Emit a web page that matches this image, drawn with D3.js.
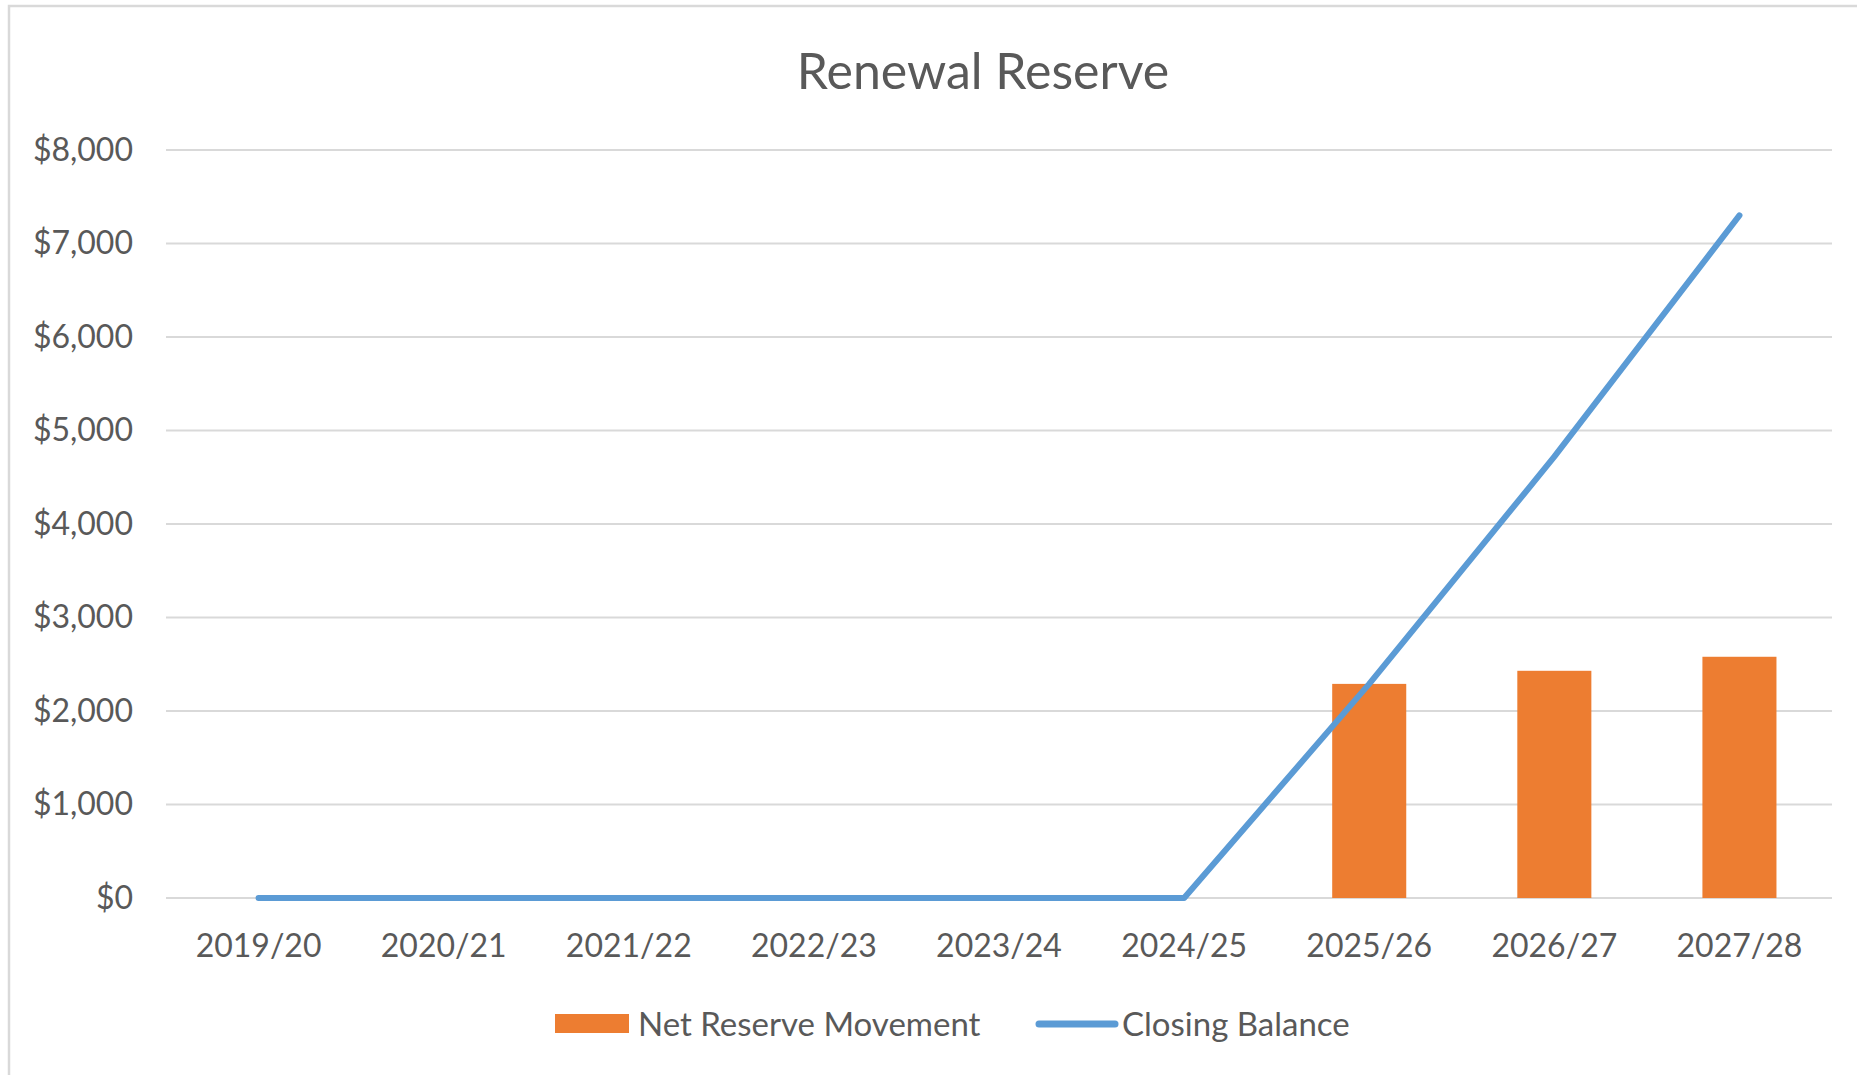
<!DOCTYPE html>
<html>
<head>
<meta charset="utf-8">
<script src="https://cdn.jsdelivr.net/npm/d3@7"></script>
<style>
  body { margin: 0; background: #fff; }
  svg { display: block; }
  .axis text { font-family: Lato, "Open Sans", sans-serif; fill: #595959; }
  .axis path, .axis line { display: none; }
</style>
</head>
<body>
<script>
const years = ["2019/20", "2020/21", "2021/22", "2022/23", "2023/24", "2024/25", "2025/26", "2026/27", "2027/28"],
    netMovement = [0, 0, 0, 0, 0, 0, 2290, 2430, 2580],
    closingBalance = [0, 0, 0, 0, 0, 0, 2290, 4720, 7300],
    yTicks = [0, 1000, 2000, 3000, 4000, 5000, 6000, 7000, 8000];

const W = 1857, H = 1075,
    margin = {left: 166, right: 25, top: 150, bottom: 177},
    width = W - margin.left - margin.right,
    height = H - margin.top - margin.bottom;

const svg = d3.select("body").append("svg").attr("width", W).attr("height", H);

// outer chart frame (only left/top visible in the reference)
svg.append("path")
    .attr("d", "M9," + H + "V6H" + W)
    .attr("fill", "none")
    .attr("stroke", "#d9d9d9")
    .attr("stroke-width", 2.5);

svg.append("text")
    .attr("x", 983)
    .attr("y", 89)
    .attr("text-anchor", "middle")
    .style("font-family", "Lato, 'Open Sans', sans-serif")
    .style("font-size", "50px")
    .style("fill", "#595959")
    .text("Renewal Reserve");

const x = d3.scaleBand().domain(years).range([0, width]).paddingInner(0).paddingOuter(0),
    y = d3.scaleLinear().domain([0, 8000]).range([height, 0]),
    barW = x.bandwidth() * 0.4;

const g = svg.append("g").attr("transform", "translate(" + margin.left + "," + margin.top + ")");

// gridlines
g.selectAll(".grid").data(yTicks).enter().append("line")
    .attr("class", "grid")
    .attr("x1", 0).attr("x2", width)
    .attr("y1", d => y(d)).attr("y2", d => y(d))
    .attr("stroke", "#d9d9d9")
    .attr("stroke-width", 2);

const yAxis = d3.axisLeft(y).tickValues(yTicks).tickSize(0).tickPadding(33)
    .tickFormat(d => "$" + d3.format(",")(d));
g.append("g").attr("class", "axis y").call(yAxis)
    .selectAll("text").style("font-size", "32px");

const xAxis = d3.axisBottom(x).tickSize(0).tickPadding(36);
g.append("g").attr("class", "axis x")
    .attr("transform", "translate(0," + height + ")")
    .call(xAxis)
    .selectAll("text").style("font-size", "32px");

// bars
g.selectAll(".bar").data(years.map((d, i) => ({year: d, v: netMovement[i]})).filter(d => d.v > 0))
    .enter().append("rect")
    .attr("class", "bar")
    .attr("x", d => x(d.year) + (x.bandwidth() - barW) / 2)
    .attr("width", barW)
    .attr("y", d => y(d.v))
    .attr("height", d => y(0) - y(d.v))
    .attr("fill", "#ed7d31");

// closing balance line
const line = d3.line()
    .x((d, i) => x(years[i]) + x.bandwidth() / 2)
    .y(d => y(d));

g.append("path")
    .attr("d", line(closingBalance))
    .attr("fill", "none")
    .attr("stroke", "#5b9bd5")
    .attr("stroke-width", 6)
    .attr("stroke-linecap", "round")
    .attr("stroke-linejoin", "round");

// legend
const legend = svg.append("g").style("font-family", "Lato, 'Open Sans', sans-serif")
    .style("font-size", "33px").style("fill", "#595959");

legend.append("rect")
    .attr("x", 555).attr("y", 1014)
    .attr("width", 74).attr("height", 19)
    .attr("fill", "#ed7d31");
legend.append("text").attr("x", 638).attr("y", 1036).text("Net Reserve Movement");

legend.append("line")
    .attr("x1", 1039).attr("x2", 1115)
    .attr("y1", 1024).attr("y2", 1024)
    .attr("stroke", "#5b9bd5")
    .attr("stroke-width", 7)
    .attr("stroke-linecap", "round");
legend.append("text").attr("x", 1122).attr("y", 1036).text("Closing Balance");
</script>
</body>
</html>
